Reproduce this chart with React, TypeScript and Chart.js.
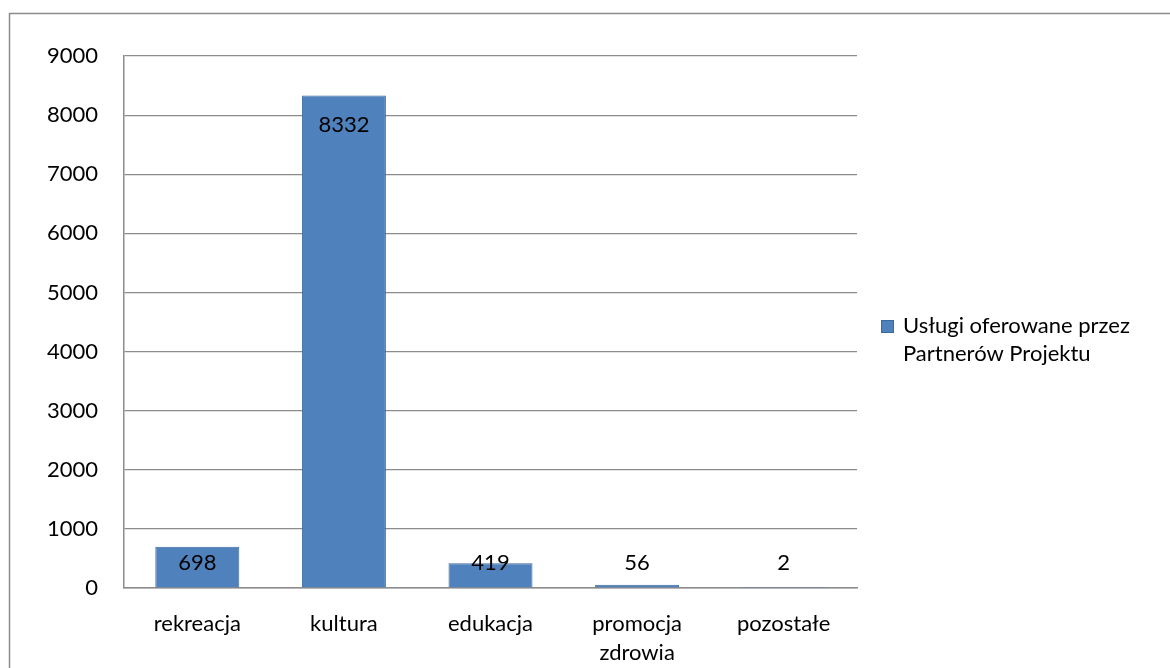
import React, { useEffect, useRef } from "react";
import { Chart, registerables } from "chart.js";

Chart.register(...registerables);

const categories: (string | string[])[] = ["rekreacja", "kultura", "edukacja", ["promocja", "zdrowia"], "pozostałe"];
const seriesLabel: string[] = ["Usługi oferowane przez", "Partnerów Projektu"];
const values: number[] = [698, 8332, 419, 56, 2];
const yTicks: number[] = [0, 1000, 2000, 3000, 4000, 5000, 6000, 7000, 8000, 9000];

const FONT = "Lato, 'Open Sans', sans-serif";
const FSIZE = 22;
const BAR = "#4F81BD";
const BAR_BORDER = "#3D6A9E";
const GRID = "#8C8C8C";

const framePlugin = {
  id: "frame",
  beforeDraw(chart: any) {
    const ctx = chart.ctx;
    ctx.save();
    ctx.fillStyle = "#ffffff";
    ctx.fillRect(0, 0, chart.width, chart.height);
    ctx.strokeStyle = "#8C8C8C";
    ctx.lineWidth = 1.5;
    ctx.strokeRect(9.5, 13.5, chart.width + 20, chart.height + 20);
    ctx.restore();
  },
};

const labelPlugin = {
  id: "barLabels",
  afterDatasetsDraw(chart: any) {
    const ctx = chart.ctx;
    const meta = chart.getDatasetMeta(0);
    const base = chart.scales.y.getPixelForValue(0);
    ctx.save();
    ctx.font = `${FSIZE}px ${FONT}`;
    ctx.fillStyle = "#000";
    ctx.textAlign = "center";
    ctx.textBaseline = "middle";
    meta.data.forEach((el: any, i: number) => {
      const y = Math.min(el.y + 29, base - 25);
      ctx.fillText(String(values[i]), el.x, y);
    });
    ctx.restore();
  },
};

const legendPlugin = {
  id: "customLegend",
  afterDraw(chart: any) {
    const ctx = chart.ctx;
    ctx.save();
    const sx = 881, sy = 320, s = 13;
    ctx.fillStyle = BAR;
    ctx.fillRect(sx, sy, s, s);
    ctx.strokeStyle = BAR_BORDER;
    ctx.lineWidth = 1;
    ctx.strokeRect(sx + 0.5, sy + 0.5, s - 1, s - 1);
    ctx.font = `${FSIZE}px ${FONT}`;
    ctx.fillStyle = "#000";
    ctx.textAlign = "left";
    ctx.textBaseline = "middle";
    seriesLabel.forEach((t, i) => {
      ctx.fillText(t, 903, 326 + i * 28);
    });
    ctx.restore();
  },
};

export default function App() {
  const ref = useRef<HTMLCanvasElement | null>(null);
  useEffect(() => {
    document.body.style.margin = "0";
    const chart = new Chart(ref.current!, {
      type: "bar",
      data: {
        labels: categories,
        datasets: [
          {
            label: seriesLabel.join(" "),
            data: values,
            backgroundColor: BAR,
            borderColor: BAR_BORDER,
            borderWidth: 1,
            barPercentage: 0.573,
            categoryPercentage: 1,
          },
        ],
      },
      options: {
        animation: false,
        responsive: false,
        layout: { padding: { left: 0, top: 56, right: 313, bottom: 0 } },
        plugins: { legend: { display: false }, tooltip: { enabled: false } },
        scales: {
          x: {
            grid: { display: false, drawTicks: false },
            border: { color: GRID, width: 1.5 },
            ticks: {
              font: { family: FONT, size: FSIZE, lineHeight: 1.3 },
              color: "#000",
              padding: 22,
              maxRotation: 0,
              autoSkip: false,
            },
            afterFit(scale: any) {
              scale.height = 80;
            },
          },
          y: {
            min: 0,
            max: 9000,
            afterBuildTicks(scale: any) {
              scale.ticks = yTicks.map((v) => ({ value: v }));
            },
            grid: { color: GRID, lineWidth: 1.2, drawTicks: false },
            border: { color: GRID, width: 1.5 },
            ticks: {
              font: { family: FONT, size: FSIZE },
              color: "#000",
              padding: 26,
              callback: (v: any) => String(v),
            },
            afterFit(scale: any) {
              scale.width = 124;
            },
          },
        },
      },
      plugins: [framePlugin, labelPlugin, legendPlugin],
    });
    return () => chart.destroy();
  }, []);
  return (
    <div style={{ position: "absolute", left: 0, top: 0, width: 1170, height: 668 }}>
      <canvas ref={ref} width={1170} height={668} style={{ width: 1170, height: 668 }} />
    </div>
  );
}
